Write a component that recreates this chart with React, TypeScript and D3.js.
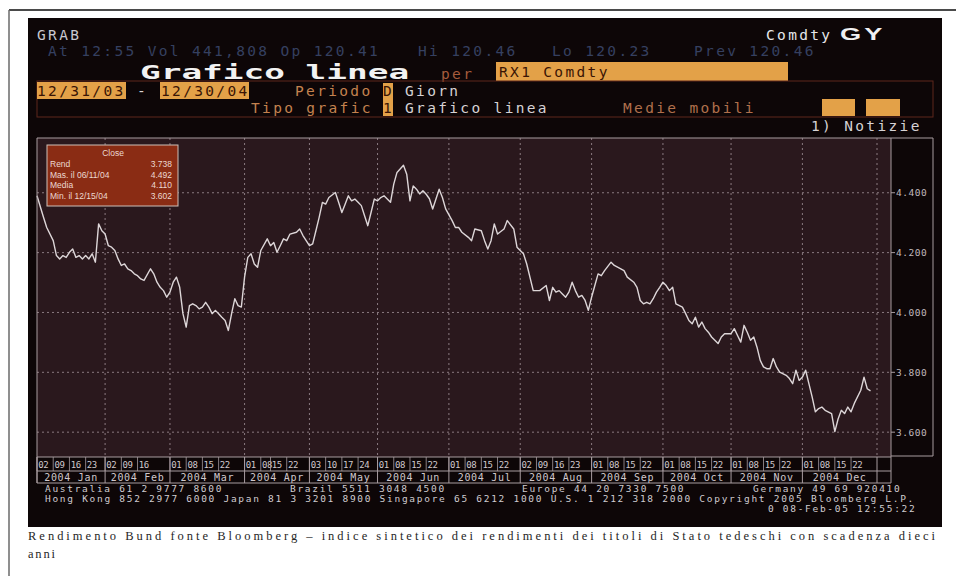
import React from "react";
import * as d3 from "d3";

// ---- data ----
const closeSeries: [string, number][] = [
  ["2004-01-02", 4.39], ["2004-01-06", 4.318], ["2004-01-07", 4.284], ["2004-01-09", 4.24],
  ["2004-01-12", 4.19], ["2004-01-13", 4.179], ["2004-01-14", 4.19], ["2004-01-15", 4.184],
  ["2004-01-16", 4.201], ["2004-01-19", 4.212], ["2004-01-20", 4.184], ["2004-01-21", 4.19],
  ["2004-01-22", 4.179], ["2004-01-23", 4.19], ["2004-01-26", 4.179], ["2004-01-27", 4.196],
  ["2004-01-28", 4.168], ["2004-01-29", 4.296], ["2004-01-30", 4.273],
  ["2004-02-02", 4.262], ["2004-02-03", 4.223], ["2004-02-04", 4.218], ["2004-02-05", 4.207],
  ["2004-02-06", 4.179], ["2004-02-09", 4.157], ["2004-02-10", 4.162], ["2004-02-11", 4.146],
  ["2004-02-12", 4.14], ["2004-02-13", 4.129], ["2004-02-16", 4.123], ["2004-02-17", 4.112],
  ["2004-02-18", 4.107], ["2004-02-20", 4.146], ["2004-02-23", 4.129], ["2004-02-24", 4.101],
  ["2004-02-25", 4.084], ["2004-02-26", 4.073], ["2004-02-27", 4.051],
  ["2004-03-01", 4.068], ["2004-03-02", 4.101], ["2004-03-03", 4.118], ["2004-03-04", 4.084],
  ["2004-03-05", 3.996], ["2004-03-08", 3.951], ["2004-03-09", 4.023], ["2004-03-10", 4.029],
  ["2004-03-11", 4.023], ["2004-03-12", 4.012], ["2004-03-15", 4.018], ["2004-03-16", 4.034],
  ["2004-03-17", 4.018], ["2004-03-18", 3.996], ["2004-03-19", 4.007], ["2004-03-22", 3.996],
  ["2004-03-23", 3.984], ["2004-03-24", 3.973], ["2004-03-25", 3.94], ["2004-03-26", 3.996],
  ["2004-03-29", 4.046], ["2004-03-30", 4.023], ["2004-03-31", 4.018],
  ["2004-04-01", 4.118], ["2004-04-02", 4.184], ["2004-04-05", 4.196], ["2004-04-06", 4.162],
  ["2004-04-07", 4.151], ["2004-04-08", 4.207], ["2004-04-14", 4.246], ["2004-04-15", 4.223],
  ["2004-04-16", 4.234], ["2004-04-19", 4.201], ["2004-04-20", 4.223], ["2004-04-21", 4.246],
  ["2004-04-22", 4.24], ["2004-04-23", 4.262], ["2004-04-27", 4.268], ["2004-04-28", 4.279],
  ["2004-04-29", 4.257],
  ["2004-05-03", 4.223], ["2004-05-04", 4.229], ["2004-05-05", 4.273], ["2004-05-06", 4.318],
  ["2004-05-07", 4.368], ["2004-05-10", 4.362], ["2004-05-11", 4.384], ["2004-05-13", 4.401],
  ["2004-05-14", 4.368], ["2004-05-17", 4.334], ["2004-05-18", 4.362], ["2004-05-19", 4.39],
  ["2004-05-20", 4.373], ["2004-05-21", 4.379], ["2004-05-24", 4.368], ["2004-05-25", 4.357],
  ["2004-05-26", 4.323], ["2004-05-27", 4.29], ["2004-05-28", 4.334], ["2004-05-31", 4.379],
  ["2004-06-01", 4.373], ["2004-06-02", 4.384], ["2004-06-03", 4.39], ["2004-06-04", 4.379],
  ["2004-06-07", 4.368], ["2004-06-08", 4.429], ["2004-06-09", 4.468], ["2004-06-11", 4.492],
  ["2004-06-14", 4.462], ["2004-06-15", 4.373], ["2004-06-16", 4.423], ["2004-06-17", 4.412],
  ["2004-06-18", 4.396], ["2004-06-21", 4.407], ["2004-06-22", 4.395], ["2004-06-23", 4.38],
  ["2004-06-24", 4.346], ["2004-06-28", 4.412], ["2004-06-29", 4.384], ["2004-06-30", 4.346],
  ["2004-07-02", 4.307], ["2004-07-05", 4.284], ["2004-07-06", 4.284], ["2004-07-07", 4.268],
  ["2004-07-09", 4.251], ["2004-07-12", 4.24], ["2004-07-13", 4.279], ["2004-07-15", 4.273],
  ["2004-07-16", 4.24], ["2004-07-19", 4.212], ["2004-07-20", 4.24], ["2004-07-21", 4.296],
  ["2004-07-22", 4.262], ["2004-07-26", 4.279], ["2004-07-27", 4.307], ["2004-07-29", 4.279],
  ["2004-07-30", 4.218],
  ["2004-08-03", 4.196], ["2004-08-04", 4.162], ["2004-08-06", 4.073], ["2004-08-09", 4.073],
  ["2004-08-10", 4.073], ["2004-08-12", 4.09], ["2004-08-13", 4.04], ["2004-08-16", 4.084],
  ["2004-08-17", 4.068], ["2004-08-18", 4.073], ["2004-08-19", 4.062], ["2004-08-20", 4.051],
  ["2004-08-23", 4.068], ["2004-08-24", 4.101], ["2004-08-25", 4.073], ["2004-08-26", 4.051],
  ["2004-08-27", 4.057], ["2004-08-30", 4.04], ["2004-08-31", 4.007],
  ["2004-09-01", 4.051], ["2004-09-02", 4.09], ["2004-09-03", 4.129], ["2004-09-06", 4.123],
  ["2004-09-07", 4.14], ["2004-09-09", 4.168], ["2004-09-10", 4.157], ["2004-09-14", 4.146],
  ["2004-09-15", 4.14], ["2004-09-16", 4.118], ["2004-09-20", 4.101], ["2004-09-21", 4.084],
  ["2004-09-22", 4.04], ["2004-09-23", 4.029], ["2004-09-24", 4.034], ["2004-09-27", 4.029],
  ["2004-09-28", 4.046], ["2004-09-29", 4.068], ["2004-09-30", 4.084],
  ["2004-10-01", 4.101], ["2004-10-04", 4.09], ["2004-10-05", 4.073], ["2004-10-06", 4.084],
  ["2004-10-07", 4.029], ["2004-10-11", 4.018], ["2004-10-12", 3.996], ["2004-10-13", 3.973],
  ["2004-10-14", 3.962], ["2004-10-15", 3.984], ["2004-10-18", 3.951], ["2004-10-19", 3.968],
  ["2004-10-20", 3.946], ["2004-10-21", 3.934], ["2004-10-22", 3.918], ["2004-10-26", 3.896],
  ["2004-10-27", 3.918], ["2004-10-28", 3.929],
  ["2004-11-01", 3.929], ["2004-11-02", 3.946], ["2004-11-03", 3.923], ["2004-11-04", 3.901],
  ["2004-11-05", 3.957], ["2004-11-08", 3.934], ["2004-11-09", 3.907], ["2004-11-10", 3.918],
  ["2004-11-11", 3.884], ["2004-11-12", 3.84], ["2004-11-15", 3.818], ["2004-11-16", 3.812],
  ["2004-11-17", 3.812], ["2004-11-18", 3.846], ["2004-11-19", 3.818], ["2004-11-22", 3.801],
  ["2004-11-24", 3.79], ["2004-11-25", 3.779], ["2004-11-26", 3.762], ["2004-11-29", 3.807],
  ["2004-11-30", 3.773],
  ["2004-12-01", 3.784], ["2004-12-02", 3.807], ["2004-12-03", 3.762], ["2004-12-06", 3.718],
  ["2004-12-07", 3.668], ["2004-12-08", 3.679], ["2004-12-09", 3.684], ["2004-12-10", 3.673],
  ["2004-12-14", 3.662], ["2004-12-15", 3.602], ["2004-12-16", 3.644], ["2004-12-17", 3.673],
  ["2004-12-20", 3.662], ["2004-12-21", 3.684], ["2004-12-22", 3.668], ["2004-12-23", 3.696],
  ["2004-12-27", 3.74], ["2004-12-28", 3.784], ["2004-12-29", 3.745], ["2004-12-30", 3.738],
];

const holidays = ["2004-04-09", "2004-04-12"];
const yTicks = [3.6, 3.8, 4.0, 4.2, 4.4];
const yTickLabels = ["3.600", "3.800", "4.000", "4.200", "4.400"];
const monthLabels = [
  "2004 Jan", "2004 Feb", "2004 Mar", "2004 Apr", "2004 May", "2004 Jun",
  "2004 Jul", "2004 Aug", "2004 Sep", "2004 Oct", "2004 Nov", "2004 Dec",
];
const weekLabels = [
  ["02", "09", "16", "23"], ["02", "09", "16"], ["01", "08", "15", "22"], ["01", "08", "15", "22"],
  ["03", "10", "17", "24"], ["01", "08", "15", "22"], ["01", "08", "15", "22"], ["02", "09", "16", "23"],
  ["01", "08", "15", "22"], ["01", "08", "15", "22"], ["01", "08", "15", "22"], ["01", "08", "15", "22"],
];
const legendTitle = "Close";
const legendLabels = ["Rend", "Mas. il 06/11/04", "Media", "Min. il 12/15/04"];
const legendValues = ["3.738", "4.492", "4.110", "3.602"];
const yDomain = [3.517, 4.583];

const MONO = "'DejaVu Sans Mono', 'Liberation Mono', monospace";
const SANS = "'Liberation Sans', Arial, sans-serif";
const SERIF = "'Liberation Serif', 'DejaVu Serif', serif";

const BLACK = "#0d0607";
const PLOT_BG = "#2a181d";
const GRID = "#8a7a80";
const FRAME = "#a89ca0";
const ORANGE = "#e3a148";
const ORANGE_TXT = "#c4824f";
const LIGHT = "#d6d2d4";
const DIM = "#354060";
const BOX_TXT = "#3a1404";

export default function App() {
  const fmt = d3.timeFormat("%Y-%m-%d");
  const days = d3.timeDay
    .range(new Date(2004, 0, 2), new Date(2005, 0, 1))
    .filter((d) => d.getDay() !== 0 && d.getDay() !== 6 && !holidays.includes(fmt(d)));
  const idx = new Map<string, number>(days.map((d, i) => [fmt(d), i]));

  const left = 37, right = 877, plotRight = 891, top = 138, bottom = 457;
  const x = d3.scaleLinear().domain([0, days.length]).range([left, right]);
  const y = d3.scaleLinear().domain(yDomain).range([bottom, top]);

  const monthStart = d3.range(12).map((m) => days.findIndex((d) => d.getMonth() === m));
  const monthEdges = [...monthStart, days.length];

  const pts = closeSeries.filter((d) => idx.has(d[0]));
  const linePath = d3
    .line<[string, number]>()
    .x((d) => x(idx.get(d[0]) as number))
    .y((d) => y(d[1]))(pts) as string;

  const row1Top = bottom, row1Bot = 471, row2Bot = 483;

  const t16 = { fontFamily: MONO, fontSize: 14.5, letterSpacing: 2.34 } as const;
  const t10 = { fontFamily: MONO, fontSize: 9.5, letterSpacing: 1.7, fill: "#d0ccd0" } as const;

  return (
    <svg
      width={956}
      height={576}
      viewBox="0 0 956 576"
      style={{ position: "absolute", left: 0, top: 0, display: "block", background: "#ffffff" }}
    >
      {/* page frame */}
      <line x1={9} y1={10} x2={956} y2={10} stroke="#4a4a4a" strokeWidth={2} />
      <line x1={9} y1={10} x2={9} y2={576} stroke="#6a6a6a" strokeWidth={1.5} />

      {/* terminal background */}
      <rect x={28} y={18} width={914} height={509} fill={BLACK} />

      {/* header row 1 */}
      <text x={37} y={40} {...t16} fill="#c8c8cf">GRAB</text>
      <text x={766} y={40} {...t16} fill="#e6e6ea">Comdty</text>
      <text
        transform="translate(840,40) scale(1.6,1)"
        fontFamily={SANS}
        fontWeight="bold"
        fontSize={17}
        letterSpacing={2}
        fill="#f0f0f2"
      >
        GY
      </text>

      {/* header row 2 */}
      <text x={48} y={56} {...t16} fill={DIM}>At 12:55 Vol 441,808 Op 120.41</text>
      <text x={418} y={56} {...t16} fill={DIM}>Hi 120.46</text>
      <text x={552} y={56} {...t16} fill={DIM}>Lo 120.23</text>
      <text x={694} y={56} {...t16} fill={DIM}>Prev 120.46</text>

      {/* header row 3 */}
      <text
        transform="translate(140,79) scale(1.72,1)"
        fontFamily={MONO}
        fontWeight="bold"
        fontSize={20}
        fill="#f2f2f2"
      >
        Grafico linea
      </text>
      <text x={441} y={79} {...t16} fill="#a55c3c">per</text>
      <rect x={496} y={62} width={292} height={19} fill={ORANGE} />
      <text x={499} y={77} {...t16} fill={BOX_TXT}>RX1 Comdty</text>

      {/* header rows 4-5 band */}
      <rect x={37} y={81} width={896} height={36} fill="none" stroke="#5e261c" strokeWidth={1} />
      <rect x={37} y={82} width={89} height={17} fill={ORANGE} />
      <text x={37} y={96} {...t16} fill={BOX_TXT}>12/31/03</text>
      <text x={137} y={96} {...t16} fill={LIGHT}>-</text>
      <rect x={160} y={82} width={89} height={17} fill={ORANGE} />
      <text x={161} y={96} {...t16} fill={BOX_TXT}>12/30/04</text>
      <text x={295} y={96} {...t16} fill={ORANGE_TXT}>Periodo</text>
      <rect x={383} y={83} width={10} height={16} fill={ORANGE} />
      <text x={383} y={96} {...t16} fill={BOX_TXT}>D</text>
      <text x={405} y={96} {...t16} fill={LIGHT}>Giorn</text>

      <text x={251} y={113} {...t16} fill={ORANGE_TXT}>Tipo grafic</text>
      <rect x={383} y={99} width={10} height={17} fill={ORANGE} />
      <text x={383} y={113} {...t16} fill={BOX_TXT}>1</text>
      <text x={405} y={113} {...t16} fill={LIGHT}>Grafico linea</text>
      <text x={623} y={113} {...t16} fill="#b0704c">Medie mobili</text>
      <rect x={822} y={99} width={33} height={17} fill={ORANGE} />
      <rect x={866} y={99} width={34} height={17} fill={ORANGE} />

      <text x={811} y={131} {...t16} fill={LIGHT}>1) Notizie</text>

      {/* plot area */}
      <rect x={left} y={top} width={plotRight - left} height={bottom - top} fill={PLOT_BG} />

      {/* horizontal grid */}
      {yTicks.map((t) => (
        <line
          key={"hg" + t}
          x1={left}
          x2={plotRight}
          y1={y(t)}
          y2={y(t)}
          stroke={GRID}
          strokeWidth={1}
          strokeDasharray="2,3"
        />
      ))}
      {/* vertical grid at month boundaries */}
      {monthEdges.slice(1).map((i, k) => (
        <line
          key={"vg" + k}
          x1={x(i)}
          x2={x(i)}
          y1={top}
          y2={bottom}
          stroke={GRID}
          strokeWidth={1}
          strokeDasharray="2,3"
        />
      ))}

      {/* the series */}
      <path d={linePath} fill="none" stroke="#ddd6d8" strokeWidth={1.4} strokeLinejoin="round" />

      {/* legend */}
      <rect x={47} y={145} width={131} height={61} fill="#8a2c14" stroke="#cdbfb8" strokeWidth={1} />
      <text x={113} y={156} textAnchor="middle" fontFamily={SANS} fontSize={8.5} fill="#ecd8d0">
        {legendTitle}
      </text>
      {legendLabels.map((lab, i) => (
        <g key={"lg" + i}>
          <text x={50} y={167 + i * 10.5} fontFamily={SANS} fontSize={8.5} fill="#ecd8d0">
            {lab}
          </text>
          <text x={172} y={167 + i * 10.5} textAnchor="end" fontFamily={SANS} fontSize={8.5} fill="#ecd8d0">
            {legendValues[i]}
          </text>
        </g>
      ))}

      {/* plot frame */}
      <line x1={left} x2={933} y1={top} y2={top} stroke={FRAME} />
      <line x1={left} x2={left} y1={top} y2={row2Bot} stroke={FRAME} />
      <line x1={plotRight} x2={plotRight} y1={top} y2={row2Bot} stroke={FRAME} />
      <line x1={933} x2={933} y1={top} y2={456} stroke={FRAME} />
      <line x1={plotRight} x2={933} y1={456} y2={456} stroke={FRAME} />

      {/* y tick labels */}
      {yTicks.map((t, i) => (
        <g key={"yt" + t}>
          <line x1={plotRight} x2={plotRight + 4} y1={y(t)} y2={y(t)} stroke={FRAME} />
          <text x={896} y={y(t) + 3.5} fontFamily={MONO} fontSize={9.5} letterSpacing={0.5} fill="#c0b8bc">
            {yTickLabels[i]}
          </text>
        </g>
      ))}

      {/* x axis rows */}
      <line x1={left} x2={plotRight} y1={row1Top} y2={row1Top} stroke={FRAME} />
      <line x1={left} x2={plotRight} y1={row1Bot} y2={row1Bot} stroke={FRAME} />
      <line x1={left} x2={plotRight} y1={row2Bot} y2={row2Bot} stroke={FRAME} />
      {monthEdges.map((i, k) => (
        <line key={"me" + k} x1={x(i)} x2={x(i)} y1={row1Top} y2={row2Bot} stroke={FRAME} />
      ))}
      {weekLabels.map((labs, m) =>
        labs.map((dd) => {
          const key = `2004-${String(m + 1).padStart(2, "0")}-${dd}`;
          const i = idx.get(key);
          if (i === undefined) return null;
          const xx = x(i);
          return (
            <g key={"wl" + key}>
              <line x1={xx} x2={xx} y1={row1Top} y2={row1Bot} stroke={FRAME} strokeWidth={0.8} />
              <text x={xx + 1.2} y={468} fontFamily={MONO} fontSize={9} letterSpacing={-0.4} fill="#d0c8cc">
                {dd}
              </text>
            </g>
          );
        })
      )}
      {monthLabels.map((lab, m) => (
        <text
          key={"ml" + m}
          x={(x(monthEdges[m]) + x(monthEdges[m + 1])) / 2}
          y={481}
          textAnchor="middle"
          fontFamily={MONO}
          fontSize={10}
          letterSpacing={0.7}
          fill="#d0c8cc"
        >
          {lab}
        </text>
      ))}

      {/* footer contacts */}
      <text x={45} y={492} {...t10}>Australia 61 2 9777 8600</text>
      <text x={290} y={492} {...t10}>Brazil 5511 3048 4500</text>
      <text x={522} y={492} {...t10}>Europe 44 20 7330 7500</text>
      <text x={753} y={492} {...t10}>Germany 49 69 920410</text>
      <text x={45} y={502} {...t10} textLength={870} lengthAdjust="spacing">
        Hong Kong 852 2977 6000 Japan 81 3 3201 8900 Singapore 65 6212 1000 U.S. 1 212 318 2000 Copyright 2005 Bloomberg L.P.
      </text>
      <text x={768} y={512} {...t10}>0 08-Feb-05 12:55:22</text>

      {/* caption */}
      <text x={28} y={540} fontFamily={SERIF} fontSize={12.5} fill="#262626" textLength={907} lengthAdjust="spacing">
        Rendimento Bund fonte Bloomberg – indice sintetico dei rendimenti dei titoli di Stato tedeschi  con scadenza dieci
      </text>
      <text x={28} y={558} fontFamily={SERIF} fontSize={12.5} letterSpacing={1.8} fill="#262626">
        anni
      </text>
    </svg>
  );
}
